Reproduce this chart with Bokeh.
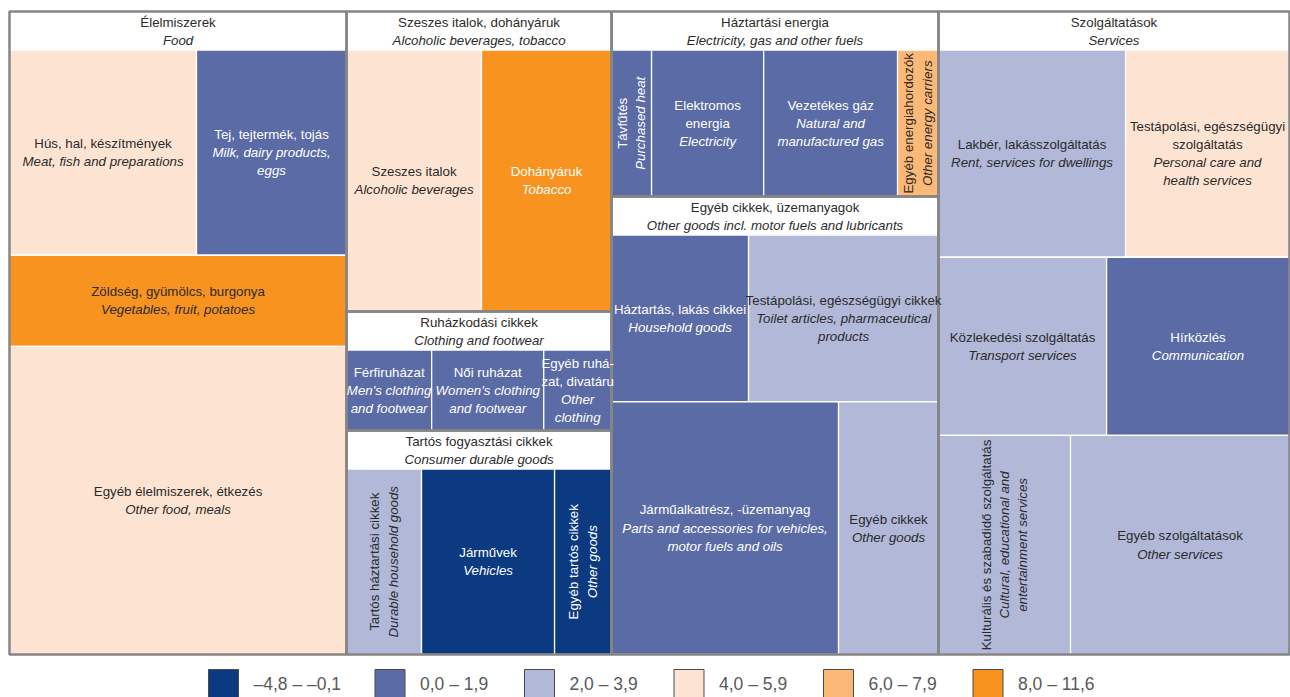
import math
from bokeh.plotting import figure
from bokeh.models import ColumnDataSource, Range1d
from bokeh.core.properties import value
from bokeh.embed import file_html
from bokeh.resources import INLINE

# ---------------- data ----------------
group_ids = ["food", "alco", "cloth", "durable", "energy", "other", "services"]
group_hu = ["Élelmiszerek", "Szeszes italok, dohányáruk", "Ruházkodási cikkek",
            "Tartós fogyasztási cikkek", "Háztartási energia",
            "Egyéb cikkek, üzemanyagok", "Szolgáltatások"]
group_en = ["Food", "Alcoholic beverages, tobacco", "Clothing and footwear",
            "Consumer durable goods", "Electricity, gas and other fuels",
            "Other goods incl. motor fuels and lubricants", "Services"]

item_ids = ["meat", "milk", "veg", "otherfood",
            "alc", "tob",
            "men", "women", "othercloth",
            "durhh", "vehicles", "otherdur",
            "heat", "elec", "gas", "otherenergy",
            "hh", "toilet", "parts", "othergoods",
            "rent", "care", "transport", "comm", "culture", "otherserv"]
item_group = ["food"] * 4 + ["alco"] * 2 + ["cloth"] * 3 + ["durable"] * 3 + \
             ["energy"] * 4 + ["other"] * 4 + ["services"] * 6
# weights (share of the basket, %)
item_weight = [4.96, 3.98, 3.97, 13.42,
               4.92, 4.74,
               1.23, 1.62, 0.98,
               2.04, 3.62, 1.55,
               0.90, 2.52, 3.01, 0.92,
               3.03, 4.20, 7.61, 3.35,
               5.01, 4.39, 3.87, 4.21, 3.74, 6.20]
# price change class (index into class_labels)
item_class = [3, 1, 5, 3,
              3, 5,
              1, 1, 1,
              2, 0, 0,
              1, 1, 1, 4,
              1, 2, 1, 2,
              2, 3, 2, 1, 2, 2]
item_hu = ["Hús, hal, készítmények", "Tej, tejtermék, tojás", "Zöldség, gyümölcs, burgonya",
           "Egyéb élelmiszerek, étkezés",
           "Szeszes italok", "Dohányáruk",
           "Férfiruházat", "Női ruházat", "Egyéb ruhá-\nzat, divatáru",
           "Tartós háztartási cikkek", "Járművek", "Egyéb tartós cikkek",
           "Távfűtés", "Elektromos\nenergia", "Vezetékes gáz", "Egyéb energiahordozók",
           "Háztartás, lakás cikkei", "Testápolási, egészségügyi cikkek",
           "Járműalkatrész, -üzemanyag", "Egyéb cikkek",
           "Lakbér, lakásszolgáltatás", "Testápolási, egészségügyi\nszolgáltatás",
           "Közlekedési szolgáltatás", "Hírközlés",
           "Kulturális és szabadidő szolgáltatás", "Egyéb szolgáltatások"]
item_en = ["Meat, fish and preparations", "Milk, dairy products,\neggs", "Vegetables, fruit, potatoes",
           "Other food, meals",
           "Alcoholic beverages", "Tobacco",
           "Men's clothing\nand footwear", "Women's clothing\nand footwear", "Other\nclothing",
           "Durable household goods", "Vehicles", "Other goods",
           "Purchased heat", "Electricity", "Natural and\nmanufactured gas", "Other energy carriers",
           "Household goods", "Toilet articles, pharmaceutical\nproducts",
           "Parts and accessories for vehicles,\nmotor fuels and oils", "Other goods",
           "Rent, services for dwellings", "Personal care and\nhealth services",
           "Transport services", "Communication",
           "Cultural, educational and\nentertainment services", "Other services"]

class_labels = ["–4,8 – –0,1", "0,0 – 1,9", "2,0 – 3,9", "4,0 – 5,9", "6,0 – 7,9", "8,0 – 11,6"]
class_colors = ["#0b3a80", "#5b6ba5", "#b1b8d8", "#fde4d2", "#fcb877", "#f7931e"]

# ---------------- layout specification ----------------
columns = [["food"], ["alco", "cloth", "durable"], ["energy", "other"], ["services"]]
group_rows = {
    "food": [["meat", "milk"], ["veg"], ["otherfood"]],
    "alco": [["alc", "tob"]],
    "cloth": [["men", "women", "othercloth"]],
    "durable": [["durhh", "vehicles", "otherdur"]],
    "energy": [["heat", "elec", "gas", "otherenergy"]],
    "other": [["hh", "toilet"], ["parts", "othergoods"]],
    "services": [["rent", "care"], ["transport", "comm"], ["culture", "otherserv"]],
}
rotated = {"durhh", "otherdur", "heat", "otherenergy", "culture"}
white_text_extra = {"tob"}

FONT = "Liberation Sans"
FS = "13.3px"
LINE = 18.2
HEADER = 38.5
X0, X1, Y0, Y1 = 9, 1289, 11, 654  # treemap frame (screen px)
PAGE_W, PAGE_H = 1290, 697

W = dict(zip(item_ids, item_weight))
GW = {g: sum(w for w, gg in zip(item_weight, item_group) if gg == g) for g in group_ids}
total = sum(item_weight)

group_rect = {}
leaf_rect = {}
x = X0
for col in columns:
    cw = sum(GW[g] for g in col)
    w = (X1 - X0) * cw / total
    y = Y0
    for g in col:
        h = (Y1 - Y0) * GW[g] / cw
        group_rect[g] = (x, x + w, y, y + h)
        cy = y + HEADER
        ch = h - HEADER
        for row in group_rows[g]:
            rw = sum(W[k] for k in row)
            rh = ch * rw / GW[g]
            lx = x
            for k in row:
                lw = w * W[k] / rw
                leaf_rect[k] = (lx, lx + lw, cy, cy + rh)
                lx += lw
            cy += rh
        y += h
    x += w


def sy(v):
    return PAGE_H - v


p = figure(width=PAGE_W, height=PAGE_H, x_range=Range1d(0, PAGE_W), y_range=Range1d(0, PAGE_H),
           output_backend="svg", toolbar_location=None, min_border=0,
           x_axis_location=None, y_axis_location=None)
p.grid.visible = False
p.outline_line_color = None
p.background_fill_color = "white"
p.border_fill_color = "white"

# leaves
leaf = dict(left=[], right=[], top=[], bottom=[], color=[])
for k, c in zip(item_ids, item_class):
    l, r, t, b = leaf_rect[k]
    leaf["left"].append(l); leaf["right"].append(r)
    leaf["top"].append(sy(t)); leaf["bottom"].append(sy(b))
    leaf["color"].append(class_colors[c])
p.quad(left="left", right="right", top="top", bottom="bottom", fill_color="color",
       line_color="white", line_width=1.3, source=ColumnDataSource(leaf))

# headers
hdr = dict(left=[], right=[], top=[], bottom=[])
for g in group_ids:
    l, r, t, b = group_rect[g]
    hdr["left"].append(l); hdr["right"].append(r)
    hdr["top"].append(sy(t)); hdr["bottom"].append(sy(t + HEADER))
p.quad(left="left", right="right", top="top", bottom="bottom", fill_color="white",
       line_color=None, source=ColumnDataSource(hdr))

# group borders
gb = dict(left=[], right=[], top=[], bottom=[])
for g in group_ids:
    l, r, t, b = group_rect[g]
    gb["left"].append(l); gb["right"].append(r)
    gb["top"].append(sy(t)); gb["bottom"].append(sy(b))
p.quad(left="left", right="right", top="top", bottom="bottom", fill_color=None,
       line_color="#858585", line_width=2.5, source=ColumnDataSource(gb))

# labels
txt = {st: dict(x=[], y=[], text=[], color=[], angle=[]) for st in ("normal", "italic")}


def add_label(cx, cy, hu, en, color, rot):
    lines = [(t, "normal") for t in hu.split("\n")] + [(t, "italic") for t in en.split("\n")]
    n = len(lines)
    for i, (t, st) in enumerate(lines):
        off = (i - (n - 1) / 2) * LINE
        if rot:
            xx, yy, ang = cx + off, cy, math.pi / 2
        else:
            xx, yy, ang = cx, cy + off, 0.0
        d = txt[st]
        d["x"].append(xx); d["y"].append(sy(yy)); d["text"].append(t)
        d["color"].append(color); d["angle"].append(ang)


DARK = "#2b2b2b"
for g, hu, en in zip(group_ids, group_hu, group_en):
    l, r, t, b = group_rect[g]
    add_label((l + r) / 2, t + HEADER / 2 + 0.5, hu, en, DARK, False)

for k, c, hu, en in zip(item_ids, item_class, item_hu, item_en):
    l, r, t, b = leaf_rect[k]
    col = "white" if (c <= 1 or k in white_text_extra) else DARK
    add_label((l + r) / 2, (t + b) / 2, hu, en, col, k in rotated)

for st in ("normal", "italic"):
    p.text(x="x", y="y", text="text", angle="angle", text_color="color",
           text_font=value(FONT), text_font_size=FS, text_font_style=st,
           text_align="center", text_baseline="middle", source=ColumnDataSource(txt[st]))

# legend
LEG_X0, LEG_TOP, SQ_W, SQ_H = 208, 669, 30, 28
lg = dict(left=[], right=[], top=[], bottom=[], color=[])
lt = dict(x=[], y=[], text=[])
lx = LEG_X0
for lab, colr in zip(class_labels, class_colors):
    lg["left"].append(lx); lg["right"].append(lx + SQ_W)
    lg["top"].append(sy(LEG_TOP)); lg["bottom"].append(sy(LEG_TOP + SQ_H))
    lg["color"].append(colr)
    lt["x"].append(lx + SQ_W + 15); lt["y"].append(sy(LEG_TOP + 14)); lt["text"].append(lab)
    lx += 73 + 8.5 * len(lab)
p.quad(left="left", right="right", top="top", bottom="bottom", fill_color="color",
       line_color="#4a4a4a", line_width=1, source=ColumnDataSource(lg))
p.text(x="x", y="y", text="text", text_color="#595959", text_font=value(FONT),
       text_font_size="17.5px", text_align="left", text_baseline="middle",
       source=ColumnDataSource(lt))

open("out.html", "w").write(file_html(p, INLINE))
